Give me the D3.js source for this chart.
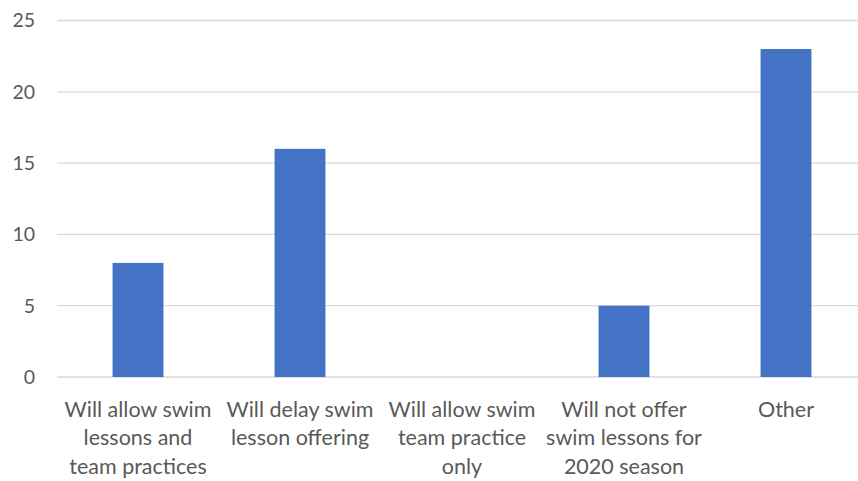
<!DOCTYPE html>
<html>
<head>
<meta charset="utf-8">
<script src="https://cdn.jsdelivr.net/npm/d3@7"></script>
<style>
  body { margin: 0; background: #fff; }
  text { font-family: Lato, "Open Sans", sans-serif; fill: #595959; }
</style>
</head>
<body>
<svg id="chart"></svg>
<script>
const categories = ["A", "B", "C", "D", "E"]
const labels = [
  ["Will allow swim", "lessons and", "team practices"],
  ["Will delay swim", "lesson offering"],
  ["Will allow swim", "team practice", "only"],
  ["Will not offer", "swim lessons for", "2020 season"],
  ["Other"]
]
const values = [8, 16, 0, 5, 23]
const yTicks = [0, 5, 10, 15, 20, 25]

const width = 858, height = 481
const margin = { top: 20.5, right: -9, bottom: 104, left: 57 }

let svg = d3.select("#chart")
  .attr("width", width)
  .attr("height", height)

let x = d3.scaleBand()
  .domain(categories)
  .range([margin.left, width - margin.right])
  .paddingInner(0.686)
  .paddingOuter(0.343)

let y = d3.scaleLinear()
  .domain([0, 25])
  .range([height - margin.bottom, margin.top])

// gridlines
svg.append("g")
  .selectAll("line")
  .data(yTicks)
  .enter()
  .append("line")
  .attr("x1", margin.left)
  .attr("x2", width)
  .attr("y1", d => y(d))
  .attr("y2", d => y(d))
  .attr("stroke", "#d9d9d9")
  .attr("stroke-width", 1.3)

// y tick labels
svg.append("g")
  .selectAll("text")
  .data(yTicks)
  .enter()
  .append("text")
  .attr("x", 35)
  .attr("y", d => y(d))
  .attr("dy", "0.35em")
  .attr("text-anchor", "end")
  .attr("font-size", 19.5)
  .text(d => d)

// bars
svg.append("g")
  .selectAll("rect")
  .data(values)
  .enter()
  .append("rect")
  .attr("x", (d, i) => x(categories[i]))
  .attr("width", x.bandwidth())
  .attr("y", d => y(d))
  .attr("height", d => y(0) - y(d))
  .attr("fill", "#4472c4")

// category labels
let lab = svg.append("g")
  .selectAll("text")
  .data(labels)
  .enter()
  .append("text")
  .attr("text-anchor", "middle")
  .attr("font-size", 21.5)
  .attr("transform", (d, i) => "translate(" + (x(categories[i]) + x.bandwidth() / 2) + ",416.5)")

lab.selectAll("tspan")
  .data(d => d)
  .enter()
  .append("tspan")
  .attr("x", 0)
  .attr("y", (d, i) => i * 28.7)
  .text(d => d)
</script>
</body>
</html>
